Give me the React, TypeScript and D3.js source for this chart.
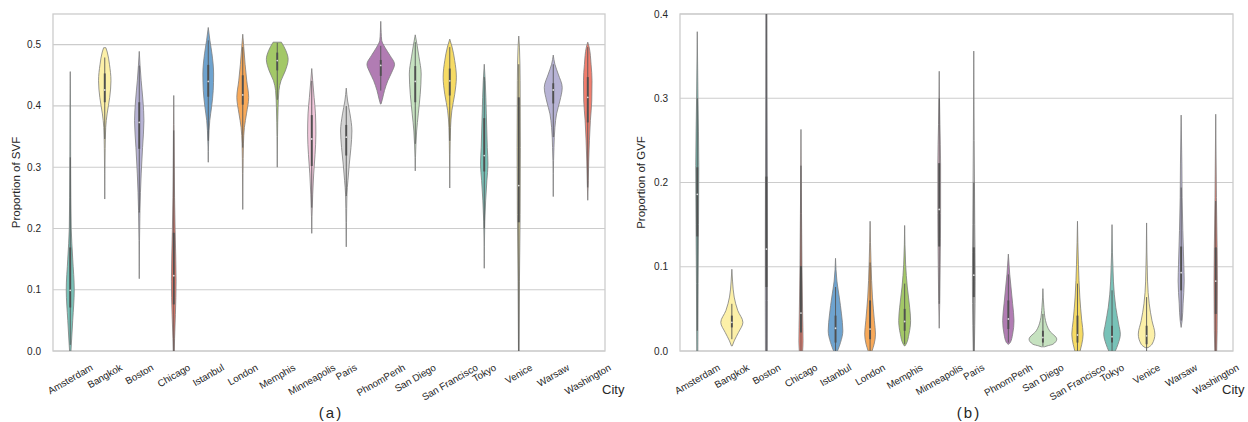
import { useRef, useEffect } from "react";
import * as d3 from "d3";

const cities = [
	"Amsterdam", "Bangkok", "Boston", "Chicago", "Istanbul", "London", "Memphis", "Minneapolis",
	"Paris", "PhnomPenh", "San Diego", "San Francisco", "Tokyo", "Venice", "Warsaw", "Washington",
];

const svfTicks = [0, 0.1, 0.2, 0.3, 0.4, 0.5];
const gvfTicks = [0, 0.1, 0.2, 0.3, 0.4];

// violin outline per city: [value, relative half-width], top to bottom
const svfShape = [
	[[0.456, 0], [0.4, 0.02], [0.3, 0.03], [0.2, 0.07], [0.15, 0.18], [0.1, 0.29], [0.05, 0.18], [0.0, 0.05]],
	[[0.495, 0.08], [0.488, 0.18], [0.468, 0.34], [0.441, 0.45], [0.414, 0.36], [0.387, 0.17], [0.365, 0.07], [0.33, 0.03], [0.248, 0]],
	[[0.489, 0], [0.466, 0.06], [0.441, 0.14], [0.408, 0.27], [0.376, 0.34], [0.332, 0.24], [0.289, 0.14], [0.229, 0.05], [0.18, 0.02], [0.118, 0]],
	[[0.417, 0], [0.37, 0.02], [0.3, 0.04], [0.25, 0.06], [0.196, 0.1], [0.114, 0.17], [0.06, 0.12], [0.02, 0.06], [0.0, 0.04]],
	[[0.528, 0], [0.507, 0.12], [0.485, 0.27], [0.452, 0.39], [0.425, 0.36], [0.398, 0.24], [0.376, 0.11], [0.343, 0.03], [0.308, 0]],
	[[0.517, 0], [0.5, 0.06], [0.468, 0.17], [0.441, 0.29], [0.414, 0.43], [0.387, 0.27], [0.365, 0.12], [0.338, 0.05], [0.29, 0.02], [0.231, 0]],
	[[0.504, 0.3], [0.49, 0.63], [0.476, 0.79], [0.457, 0.58], [0.441, 0.27], [0.425, 0.12], [0.397, 0.06], [0.35, 0.02], [0.3, 0]],
	[[0.461, 0], [0.441, 0.07], [0.414, 0.17], [0.387, 0.27], [0.354, 0.3], [0.321, 0.24], [0.289, 0.14], [0.256, 0.07], [0.22, 0.02], [0.192, 0]],
	[[0.429, 0], [0.408, 0.1], [0.387, 0.27], [0.359, 0.41], [0.332, 0.34], [0.305, 0.22], [0.278, 0.12], [0.256, 0.05], [0.21, 0.02], [0.17, 0]],
	[[0.538, 0], [0.52, 0.03], [0.507, 0.07], [0.496, 0.29], [0.482, 0.68], [0.468, 1.0], [0.455, 0.8], [0.441, 0.51], [0.425, 0.27], [0.411, 0.12], [0.403, 0.02]],
	[[0.516, 0], [0.501, 0.12], [0.48, 0.27], [0.452, 0.43], [0.419, 0.36], [0.387, 0.22], [0.359, 0.1], [0.338, 0.05], [0.294, 0]],
	[[0.509, 0], [0.496, 0.17], [0.474, 0.36], [0.447, 0.48], [0.419, 0.36], [0.392, 0.15], [0.365, 0.06], [0.32, 0.02], [0.266, 0]],
	[[0.468, 0], [0.441, 0.07], [0.387, 0.15], [0.332, 0.22], [0.305, 0.27], [0.278, 0.19], [0.245, 0.1], [0.212, 0.04], [0.17, 0.01], [0.135, 0]],
	[[0.514, 0], [0.496, 0.05], [0.441, 0.1], [0.332, 0.12], [0.223, 0.1], [0.114, 0.05], [0.0, 0.02]],
	[[0.483, 0], [0.468, 0.12], [0.452, 0.36], [0.43, 0.65], [0.408, 0.48], [0.387, 0.24], [0.365, 0.12], [0.332, 0.05], [0.29, 0.01], [0.252, 0]],
	[[0.504, 0], [0.496, 0.1], [0.468, 0.24], [0.441, 0.31], [0.408, 0.29], [0.376, 0.19], [0.343, 0.12], [0.31, 0.07], [0.278, 0.04], [0.246, 0]],
];

// [whisker low, q1, median, q3, whisker high]
const svfBox = [
	[0.01, 0.071, 0.099, 0.169, 0.316],
	[0.346, 0.406, 0.426, 0.453, 0.479],
	[0.226, 0.33, 0.373, 0.406, 0.466],
	[0.0, 0.076, 0.123, 0.193, 0.36],
	[0.343, 0.415, 0.44, 0.467, 0.507],
	[0.332, 0.402, 0.418, 0.45, 0.496],
	[0.41, 0.458, 0.474, 0.487, 0.503],
	[0.234, 0.302, 0.346, 0.385, 0.441],
	[0.253, 0.319, 0.349, 0.369, 0.4],
	[0.425, 0.449, 0.466, 0.475, 0.498],
	[0.338, 0.406, 0.44, 0.465, 0.504],
	[0.343, 0.417, 0.441, 0.461, 0.496],
	[0.2, 0.293, 0.319, 0.38, 0.447],
	[0.0, 0.21, 0.27, 0.414, 0.468],
	[0.349, 0.404, 0.426, 0.437, 0.468],
	[0.267, 0.373, 0.414, 0.447, 0.496],
];

const gvfShape = [
	[[0.379, 0], [0.3, 0.05], [0.22, 0.11], [0.15, 0.09], [0.08, 0.06], [0.0, 0.04]],
	[[0.097, 0], [0.083, 0.05], [0.064, 0.17], [0.048, 0.43], [0.034, 0.8], [0.022, 0.48], [0.012, 0.17], [0.006, 0.03]],
	[[0.42, 0.04], [0.3, 0.05], [0.2, 0.07], [0.12, 0.08], [0.06, 0.08], [0.0, 0.07]],
	[[0.263, 0], [0.2, 0.02], [0.163, 0.04], [0.103, 0.07], [0.044, 0.12], [0.012, 0.15], [0.0, 0.12]],
	[[0.11, 0], [0.083, 0.1], [0.064, 0.27], [0.044, 0.43], [0.024, 0.53], [0.01, 0.36], [0.0, 0.14]],
	[[0.154, 0], [0.103, 0.07], [0.064, 0.17], [0.036, 0.31], [0.02, 0.39], [0.008, 0.29], [0.0, 0.14]],
	[[0.149, 0], [0.103, 0.07], [0.076, 0.19], [0.052, 0.36], [0.036, 0.43], [0.02, 0.31], [0.008, 0.1], [0.006, 0.02]],
	[[0.332, 0], [0.3, 0.02], [0.269, 0.05], [0.222, 0.1], [0.163, 0.1], [0.103, 0.07], [0.06, 0.04], [0.027, 0]],
	[[0.356, 0], [0.25, 0.03], [0.15, 0.07], [0.083, 0.1], [0.03, 0.07], [0.0, 0.04]],
	[[0.115, 0], [0.091, 0.1], [0.076, 0.19], [0.056, 0.31], [0.036, 0.41], [0.02, 0.31], [0.01, 0.14], [0.008, 0.02]],
	[[0.074, 0], [0.052, 0.07], [0.036, 0.19], [0.024, 0.48], [0.014, 1.0], [0.008, 0.72], [0.006, 0.3], [0.005, 0.12]],
	[[0.154, 0], [0.103, 0.07], [0.064, 0.17], [0.036, 0.31], [0.02, 0.41], [0.008, 0.31], [0.0, 0.19]],
	[[0.15, 0], [0.083, 0.1], [0.052, 0.27], [0.032, 0.48], [0.02, 0.6], [0.008, 0.43], [0.0, 0.24]],
	[[0.152, 0], [0.083, 0.07], [0.056, 0.19], [0.036, 0.39], [0.02, 0.6], [0.008, 0.39], [0.004, 0.1]],
	[[0.28, 0], [0.222, 0.05], [0.182, 0.07], [0.143, 0.12], [0.103, 0.19], [0.083, 0.22], [0.056, 0.14], [0.036, 0.07], [0.028, 0]],
	[[0.281, 0], [0.182, 0.05], [0.123, 0.1], [0.083, 0.12], [0.024, 0.1], [0.0, 0.07]],
];

const gvfBox = [
	[0.024, 0.136, 0.186, 0.218, 0.3],
	[0.014, 0.028, 0.034, 0.042, 0.056],
	[0.0, 0.076, 0.121, 0.207, 0.4],
	[0.0, 0.022, 0.045, 0.101, 0.22],
	[0.0, 0.01, 0.027, 0.042, 0.076],
	[0.0, 0.014, 0.026, 0.06, 0.105],
	[0.008, 0.024, 0.035, 0.05, 0.08],
	[0.056, 0.124, 0.168, 0.223, 0.3],
	[0.0, 0.064, 0.09, 0.123, 0.2],
	[0.01, 0.026, 0.038, 0.06, 0.091],
	[0.006, 0.01, 0.016, 0.024, 0.044],
	[0.0, 0.01, 0.019, 0.042, 0.08],
	[0.0, 0.01, 0.017, 0.03, 0.072],
	[0.0, 0.008, 0.018, 0.03, 0.064],
	[0.036, 0.072, 0.093, 0.124, 0.194],
	[0.0, 0.044, 0.083, 0.123, 0.178],
];

const palette = [
	"#78c2b8", "#fcf0a8", "#b7b3d5", "#f27d6d", "#6ea3cf", "#f8a959",
	"#a3c867", "#f3c8dc", "#d4d4d4", "#b17cb3", "#c6e2c0", "#f6db64",
];

const W = 1248;
const H = 422;
const TOP = 14;
const BOTTOM = 351;
const FONT = "'Liberation Sans', Arial, Helvetica, sans-serif";

const drawPanel = (svg, p) => {
	const x = d3.scaleBand().domain(cities).range([p.x0, p.x1]).padding(0);
	const y = d3.scaleLinear().domain([0, p.max]).range([BOTTOM, TOP]);
	const g = svg.append("g");

	svg
		.append("clipPath")
		.attr("id", p.id)
		.append("rect")
		.attr("x", p.x0)
		.attr("y", TOP)
		.attr("width", p.x1 - p.x0)
		.attr("height", BOTTOM - TOP);

	// grid + frame
	g.selectAll(".grid")
		.data(p.ticks)
		.join("line")
		.attr("x1", p.x0)
		.attr("x2", p.x1)
		.attr("y1", (d) => y(d))
		.attr("y2", (d) => y(d))
		.attr("stroke", "#cccccc")
		.attr("stroke-width", 1.1);

	g.append("rect")
		.attr("x", p.x0)
		.attr("y", TOP)
		.attr("width", p.x1 - p.x0)
		.attr("height", BOTTOM - TOP)
		.attr("fill", "none")
		.attr("stroke", "#cccccc")
		.attr("stroke-width", 1.3);

	// y tick labels
	g.selectAll(".ytick")
		.data(p.ticks)
		.join("text")
		.attr("x", p.x0 - 12)
		.attr("y", (d) => y(d))
		.attr("dy", "0.35em")
		.attr("text-anchor", "end")
		.attr("font-size", 10)
		.attr("fill", "#262626")
		.text((d) => d3.format(".1f")(d));

	g.append("text")
		.attr("transform", `translate(${p.ylabelX},${(TOP + BOTTOM) / 2}) rotate(-90)`)
		.attr("text-anchor", "middle")
		.attr("dy", "0.35em")
		.attr("font-size", 11.5)
		.attr("fill", "#262626")
		.text(p.ylabel);

	// violins
	const hw = x.bandwidth() * 0.4;
	const vg = g.append("g").attr("clip-path", `url(#${p.id})`);

	cities.forEach((c, i) => {
		const cx = x(c) + x.bandwidth() / 2;
		const area = d3
			.area()
			.y((d) => y(d[0]))
			.x0((d) => cx - d[1] * hw)
			.x1((d) => cx + d[1] * hw)
			.curve(d3.curveMonotoneY);

		vg.append("path")
			.attr("d", area(p.shapes[i]))
			.attr("fill", palette[i % palette.length])
			.attr("stroke", "#7d7d7d")
			.attr("stroke-width", 0.8);

		const [lo, q1, med, q3, hi] = p.boxes[i];
		vg.append("line")
			.attr("x1", cx)
			.attr("x2", cx)
			.attr("y1", y(hi))
			.attr("y2", y(lo))
			.attr("stroke", "#555555")
			.attr("stroke-width", 0.9);
		vg.append("line")
			.attr("x1", cx)
			.attr("x2", cx)
			.attr("y1", y(q3))
			.attr("y2", y(q1))
			.attr("stroke", "#505050")
			.attr("stroke-width", 1.9);
		vg.append("circle")
			.attr("cx", cx)
			.attr("cy", y(med))
			.attr("r", 0.9)
			.attr("fill", "#d8d8d8");
	});

	// rotated x tick labels, box centred under each tick
	cities.forEach((c) => {
		const cx = x(c) + x.bandwidth() / 2;
		const t = g
			.append("text")
			.attr("text-anchor", "middle")
			.attr("dominant-baseline", "central")
			.attr("font-size", 9.8)
			.attr("fill", "#262626")
			.text(c);
		const w = t.node().getComputedTextLength();
		const boxH = w * 0.5 + 9.8 * 0.8 * 0.866;
		t.attr("transform", `translate(${cx},${BOTTOM + 12 + boxH / 2}) rotate(-30)`);
	});

	g.append("text")
		.attr("x", p.cityX)
		.attr("y", 394)
		.attr("font-size", 13)
		.attr("fill", "#262626")
		.text("City");

	g.append("text")
		.attr("x", p.tagX)
		.attr("y", 418)
		.attr("text-anchor", "middle")
		.attr("font-size", 15)
		.attr("letter-spacing", 2)
		.attr("fill", "#262626")
		.text(p.tag);
};

const App = () => {
	const svgRef = useRef(null);

	useEffect(() => {
		const svg = d3.select(svgRef.current);
		svg.selectAll("*").remove();

		drawPanel(svg, {
			id: "clip-svf",
			x0: 53,
			x1: 605,
			max: 0.55,
			ticks: svfTicks,
			shapes: svfShape,
			boxes: svfBox,
			ylabel: "Proportion of SVF",
			ylabelX: 16,
			tag: "(a)",
			tagX: 331,
			cityX: 602,
		});

		drawPanel(svg, {
			id: "clip-gvf",
			x0: 680,
			x1: 1233,
			max: 0.4,
			ticks: gvfTicks,
			shapes: gvfShape,
			boxes: gvfBox,
			ylabel: "Proportion of GVF",
			ylabelX: 641,
			tag: "(b)",
			tagX: 969,
			cityX: 1222,
		});
	}, []);

	return (
		<svg
			ref={svgRef}
			width={W}
			height={H}
			style={{ position: "absolute", left: 0, top: 0, background: "#fff", fontFamily: FONT }}
		></svg>
	);
};

export default App;
